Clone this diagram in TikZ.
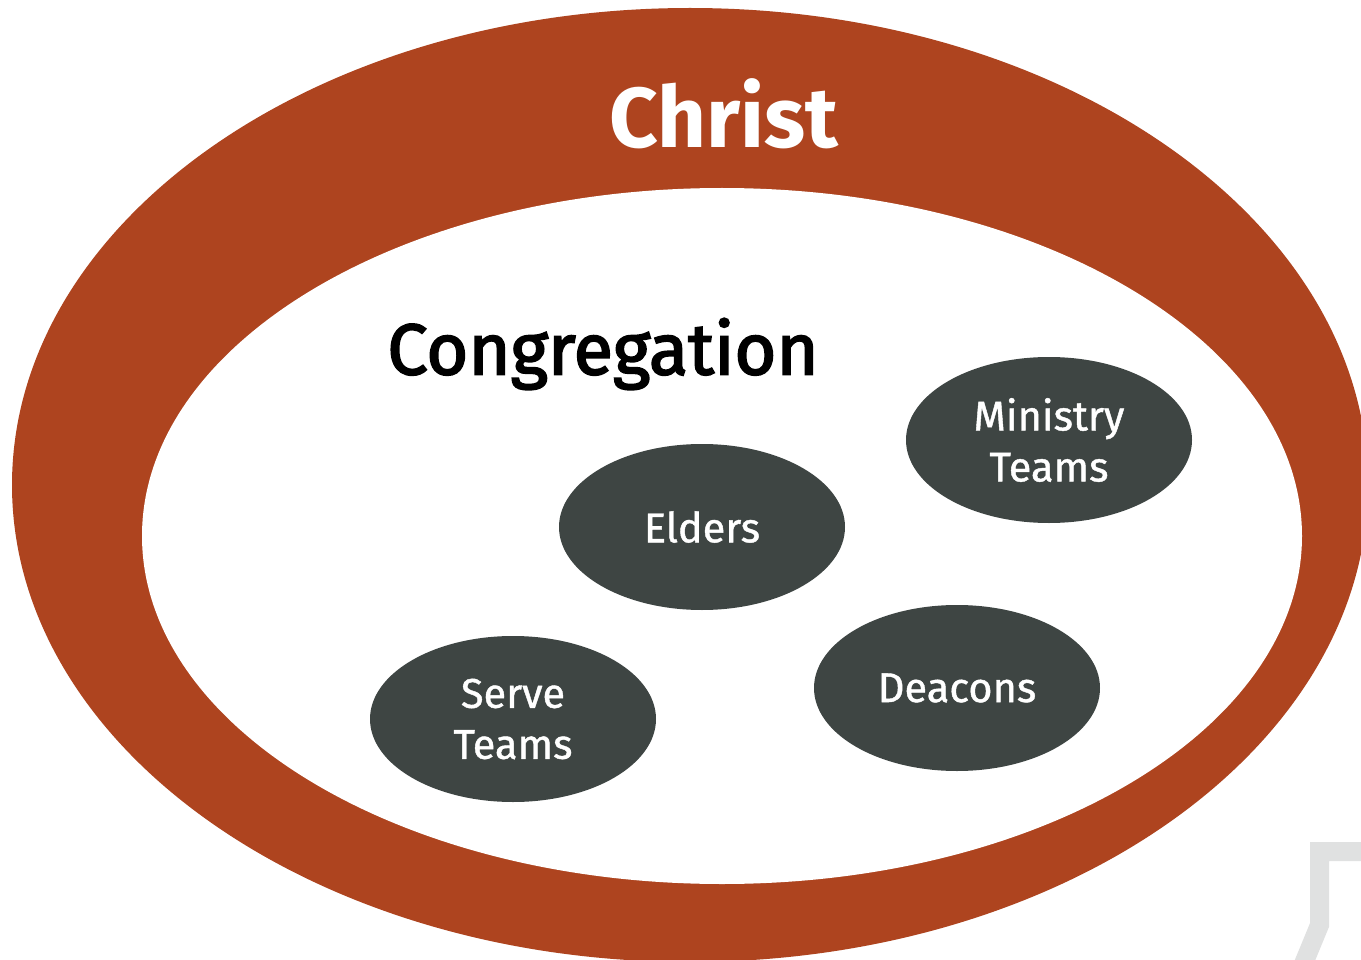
\documentclass[tikz,border=0pt]{standalone}
\usepackage{fontspec}
\setmainfont{Fira Sans}
\newfontfamily\congfont[FakeBold=2.5]{Fira Sans}
\newfontfamily\blobfont[FakeBold=1]{Fira Sans}
\usetikzlibrary{shapes.geometric}
\definecolor{rust}{HTML}{AE441F}
\definecolor{slate}{HTML}{3E4543}
\definecolor{lightgray}{HTML}{E0E1E1}
\begin{document}
\begin{tikzpicture}[x=1pt,y=-1pt,
  blob/.style={ellipse, fill=slate, minimum width=286pt, minimum height=166pt, inner sep=0pt,
    text=white, font=\blobfont\fontsize{41.5}{51}\selectfont, align=center}]
\useasboundingbox (0,0) rectangle (1361,960);
\clip (0,0) rectangle (1361,960);
\fill[white] (0,0) rectangle (1361,960);
\fill[rust] (690,485) ellipse [x radius=678, y radius=477];
\fill[white] (722,536) ellipse [x radius=580, y radius=348];
\draw[lightgray, line width=19pt] (1370,851.5) -- (1319.5,851.5) -- (1319.5,925) -- (1303,965);
\node[text=white, font=\bfseries\fontsize{85}{95}\selectfont] (christ) at (724,114) {Christ};
\node[text=black, font=\congfont\fontsize{72}{86}\selectfont] (cong) at (603,354) {Congregation};
\node[blob] (elders) at (702,527) {Elders};
\node[blob] (ministry) at (1049,440) {Ministry\\Teams};
\node[blob] (deacons) at (957,688) {Deacons};
\node[blob] (serve) at (513,719) {Serve\\Teams};
\end{tikzpicture}
\end{document}
